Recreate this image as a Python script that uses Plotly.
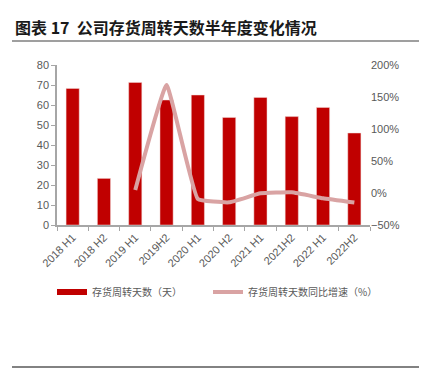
import plotly.graph_objects as go

categories = ["2018 H1", "2018 H2", "2019 H1", "2019H2", "2020 H1", "2020 H2",
              "2021 H1", "2021H2", "2022 H1", "2022H2"]
days = [68.3, 23.3, 71.3, 62.5, 65.0, 53.8, 63.8, 54.2, 58.8, 46.0]
yoy = [None, None, 4.7, 168.7, -9.4, -14.6, -0.5, 1.0, -8.3, -15.0]

OFF = 8  # page body margin
W, H = 427 - OFF, 370 - OFF
L, R, T, B = 57 - OFF, 370 - OFF, 65 - OFF, 225 - OFF

def px(x):
    return (x - OFF - L) / (R - L)

def py(y):
    return (B - (y - OFF)) / (B - T)

grey = "#595959"
tickfont = dict(family="Liberation Sans, Arial, sans-serif", size=11, color=grey)
legfont = dict(family="Noto Sans CJK SC", size=10, color=grey)

fig = go.Figure()
fig.add_trace(go.Bar(x=categories, y=days, name="存货周转天数（天）",
                     marker=dict(color="#C00000", line=dict(color="#F2DCDB", width=0.5)),
                     yaxis="y", showlegend=False))
fig.add_trace(go.Scatter(x=categories, y=yoy, name="存货周转天数同比增速（%）",
                         mode="lines", line=dict(color="#D9A3A3", width=4, shape="spline", smoothing=0.3),
                         yaxis="y2", showlegend=False))
# legend proxies
fig.add_trace(go.Scatter(x=[None], y=[None], name="存货周转天数（天）", mode="lines",
                         line=dict(color="#C00000", width=6), yaxis="y", legend="legend"))
fig.add_trace(go.Scatter(x=[None], y=[None], name="存货周转天数同比增速（%）", mode="lines",
                         line=dict(color="#D9A3A3", width=4), yaxis="y2", legend="legend2"))

fig.update_layout(
    template="none",
    width=W, height=H,
    margin=dict(l=L, r=W - R, t=T, b=H - B, autoexpand=False),
    paper_bgcolor="white", plot_bgcolor="white",
    bargap=0.58,
    showlegend=True,
    legend=dict(orientation="h", x=px(52), xanchor="left", y=py(292), yanchor="middle",
                font=legfont, itemwidth=30, bgcolor="rgba(0,0,0,0)"),
    legend2=dict(orientation="h", x=px(208), xanchor="left", y=py(292), yanchor="middle",
                 font=legfont, itemwidth=30, bgcolor="rgba(0,0,0,0)"),
    xaxis=dict(type="category", tickangle=-45, tickfont=tickfont,
               showline=True, linecolor="#A6A6A6", linewidth=1.5,
               ticks="outside", tickson="boundaries", ticklen=4, tickcolor="#A6A6A6",
               showgrid=False, zeroline=False),
    yaxis=dict(range=[0, 80], dtick=10, tickfont=tickfont, showgrid=False,
               showline=True, linecolor="#A6A6A6", linewidth=1.5,
               ticks="outside", ticklen=4, tickcolor="#A6A6A6", zeroline=False),
    yaxis2=dict(range=[-50, 200], dtick=50, overlaying="y", side="right", color=grey,
                ticksuffix="%", tickfont=dict(family="Liberation Sans, Arial, sans-serif", size=11, color=grey),
                showgrid=False, showline=False, zeroline=False, ticks=""),
    annotations=[dict(text="<b>图表 17  公司存货周转天数半年度变化情况</b>",
                      xref="paper", yref="paper", x=px(13), y=py(27),
                      xanchor="left", yanchor="middle", showarrow=False,
                      font=dict(family="Noto Sans CJK SC", size=16, color="#1a1a1a"))],
    shapes=[
        dict(type="line", xref="paper", yref="paper", x0=px(12), x1=px(427),
             y0=py(41), y1=py(41), line=dict(color="#7F7F7F", width=1.5)),
        dict(type="line", xref="paper", yref="paper", x0=px(12), x1=px(427),
             y0=py(367), y1=py(367), line=dict(color="#595959", width=1.5)),
    ],
)

fig.write_html("out.html")
